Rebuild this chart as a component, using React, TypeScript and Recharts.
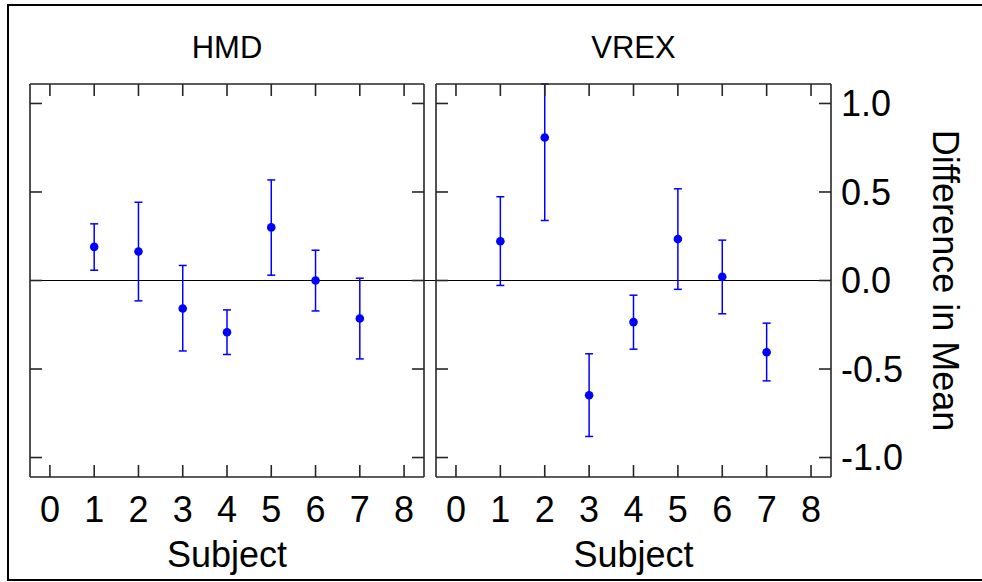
import { ScatterChart, Scatter, XAxis, YAxis, ErrorBar, ReferenceLine, Label } from "recharts";

const SUBJECTS = [1, 2, 3, 4, 5, 6, 7];
const X_TICKS = [0, 1, 2, 3, 4, 5, 6, 7, 8];
const Y_TICKS = [-1, -0.5, 0, 0.5, 1];

const HMD_MEAN = [0.19, 0.164, -0.158, -0.292, 0.3, 0.0, -0.215];
const HMD_LOW = [0.058, -0.115, -0.398, -0.418, 0.03, -0.172, -0.443];
const HMD_HIGH = [0.32, 0.442, 0.085, -0.166, 0.568, 0.171, 0.013];

const VREX_MEAN = [0.222, 0.808, -0.648, -0.235, 0.234, 0.021, -0.405];
const VREX_LOW = [-0.028, 0.339, -0.881, -0.388, -0.05, -0.188, -0.567];
const VREX_HIGH = [0.473, 1.11, -0.414, -0.083, 0.518, 0.228, -0.241];

const X_DOMAIN: [number, number] = [-0.45, 8.45];
const Y_DOMAIN: [number, number] = [-1.11, 1.11];

const BLUE = "#0000ff";
const INK = "#262626";
const line = { stroke: INK, strokeWidth: 1.6 };
const blank = () => "";

function Dot(props: any) {
  return <circle cx={props.cx} cy={props.cy} r={4.3} fill={BLUE} />;
}

interface PanelProps {
  title: string;
  mean: number[];
  low: number[];
  high: number[];
  labels: boolean;
  left: number;
  width: number;
  margin: { top: number; right: number; bottom: number; left: number };
}

function Panel({ title, mean, low, high, labels, left, width, margin }: PanelProps) {
  const rows = SUBJECTS.map((s, i) => ({
    subject: s,
    mean: mean[i],
    err: [mean[i] - low[i], high[i] - mean[i]],
  }));

  return (
    <div style={{ position: "absolute", left, top: 0 }}>
      <ScatterChart width={width} height={582} margin={margin}>
        {/* bottom axis: inner ticks, labels below */}
        <XAxis
          xAxisId="b" type="number" dataKey="subject" orientation="bottom"
          domain={X_DOMAIN} ticks={X_TICKS} interval={0} allowDataOverflow
          height={95} tickSize={-12} tickMargin={31}
          axisLine={line} tickLine={line} tick={{ fill: "#000", fontSize: 36 }}
        >
          <Label value="Subject" position="insideBottom" offset={5} fill="#000" fontSize={36} />
        </XAxis>
        {/* top frame */}
        <XAxis
          xAxisId="t" type="number" dataKey="subject" orientation="top"
          domain={X_DOMAIN} ticks={X_TICKS} interval={0} allowDataOverflow
          height={1} tickSize={-12} tickFormatter={blank}
          axisLine={line} tickLine={line}
        >
          <Label value={title} position="top" offset={25} fill="#000" fontSize={31} />
        </XAxis>
        <YAxis
          yAxisId="l" type="number" dataKey="mean" orientation="left"
          domain={Y_DOMAIN} ticks={Y_TICKS} interval={0} allowDataOverflow
          width={1} tickSize={-12} tickFormatter={blank}
          axisLine={line} tickLine={line}
        />
        <YAxis
          yAxisId="r" type="number" dataKey="mean" orientation="right"
          domain={Y_DOMAIN} ticks={Y_TICKS} interval={0} allowDataOverflow
          width={labels ? 131 : 1} tickSize={-12} tickMargin={22}
          tickFormatter={labels ? (v: number) => v.toFixed(1) : blank}
          axisLine={line} tickLine={line} tick={{ fill: "#000", fontSize: 36 }}
        >
          {labels && (
            <Label value="Difference in Mean" angle={90} position="center" dx={49.5} fill="#000" fontSize={36} />
          )}
        </YAxis>

        <ReferenceLine
          xAxisId="b" yAxisId="l" ifOverflow="visible"
          segment={[{ x: X_DOMAIN[0], y: 0 }, { x: labels ? X_DOMAIN[1] : 8.72, y: 0 }]}
          stroke="#000" strokeWidth={1.2}
        />

        <Scatter xAxisId="b" yAxisId="l" data={rows} dataKey="mean" shape={Dot} isAnimationActive={false}>
          <ErrorBar dataKey="err" direction="y" width={4} stroke={BLUE} strokeWidth={1.5} isAnimationActive={false} />
        </Scatter>
      </ScatterChart>
    </div>
  );
}

export default function App() {
  return (
    <div
      style={{
        position: "absolute", left: 0, top: 0, width: 982, height: 582, overflow: "hidden",
        background: "#fff", fontFamily: "'Liberation Sans', Arial, sans-serif",
      }}
    >
      <div
        style={{
          position: "absolute", left: 7, top: 4, width: 990, height: 577,
          boxSizing: "border-box", border: "2px solid #000",
        }}
      />
      <Panel
        title="HMD" mean={HMD_MEAN} low={HMD_LOW} high={HMD_HIGH} labels={false}
        left={0} width={440} margin={{ top: 83, right: 15, bottom: 10, left: 29 }}
      />
      <Panel
        title="VREX" mean={VREX_MEAN} low={VREX_LOW} high={VREX_HIGH} labels={true}
        left={430} width={552} margin={{ top: 83, right: 20, bottom: 10, left: 5 }}
      />
    </div>
  );
}
